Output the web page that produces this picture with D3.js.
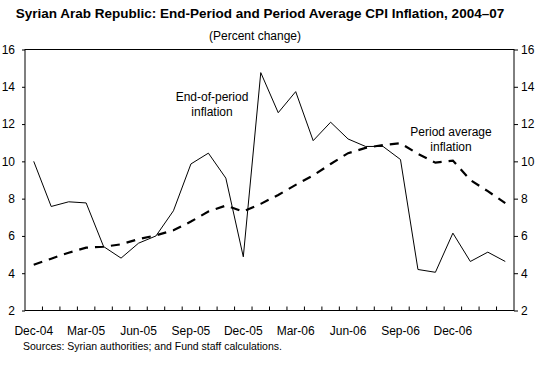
<!DOCTYPE html>
<html>
<head>
<meta charset="utf-8">
<script src="https://cdn.jsdelivr.net/npm/d3@7"></script>
<style>
  body { margin: 0; background: #fff; }
  svg { display: block; font-family: "Liberation Sans", Arial, sans-serif; }
</style>
</head>
<body>
<script>
const months = ["Dec-04","Jan-05","Feb-05","Mar-05","Apr-05","May-05","Jun-05","Jul-05","Aug-05","Sep-05","Oct-05","Nov-05",
  "Dec-05","Jan-06","Feb-06","Mar-06","Apr-06","May-06","Jun-06","Jul-06","Aug-06","Sep-06","Oct-06","Nov-06",
  "Dec-06","Jan-07","Feb-07","Mar-07"];
const endPeriod = [10.0,7.58,7.83,7.77,5.43,4.81,5.61,6.0,7.35,9.86,10.44,9.1,
  4.88,14.76,12.61,13.74,11.11,12.1,11.2,10.8,10.8,10.1,4.2,4.05,
  6.15,4.63,5.13,4.63];
const periodAvg = [4.45,4.78,5.1,5.37,5.42,5.55,5.83,6.03,6.3,6.77,7.31,7.63,
  7.31,7.72,8.2,8.74,9.24,9.86,10.44,10.72,10.88,10.97,10.4,9.93,
  10.04,9.0,8.4,7.76];
const xTickLabels = ["Dec-04","Mar-05","Jun-05","Sep-05","Dec-05","Mar-06","Jun-06","Sep-06","Dec-06"];
const yTicks = [2,4,6,8,10,12,14,16];

const W = 540, H = 369;
const L = 25, R = 514, T = 49.5, B = 310.5;

const svg = d3.select("body").append("svg").attr("width", W).attr("height", H);

const x = d3.scaleBand().domain(months).range([L, R]).padding(0);
const y = d3.scaleLinear().domain([2, 16]).range([B, T]);
const cx = d => x(d) + x.bandwidth() / 2;

// Title
svg.append("text").attr("x", 260).attr("y", 18).attr("text-anchor", "middle")
  .attr("font-size", 13.5).attr("font-weight", "bold")
  .text("Syrian Arab Republic: End-Period and Period Average CPI Inflation, 2004\u201307");
svg.append("text").attr("x", 255).attr("y", 40).attr("text-anchor", "middle")
  .attr("font-size", 12).text("(Percent change)");

// Frame
svg.append("rect").attr("x", L).attr("y", T).attr("width", R - L).attr("height", B - T)
  .attr("fill", "none").attr("stroke", "#000").attr("stroke-width", 1);

// Left axis
const yl = svg.append("g").attr("transform", `translate(${L},0)`)
  .call(d3.axisLeft(y).tickValues(yTicks).tickSize(3).tickPadding(7).tickFormat(d3.format("d")));
// Right axis
const yr = svg.append("g").attr("transform", `translate(${R},0)`)
  .call(d3.axisRight(y).tickValues(yTicks).tickSize(4).tickPadding(3).tickFormat(d3.format("d")));
[yl, yr].forEach(g => {
  g.select(".domain").remove();
  g.selectAll("text").attr("font-size", 12).attr("fill", "#000")
    .attr("font-family", "'Liberation Sans', Arial, sans-serif");
  g.selectAll("line").attr("stroke", "#000");
});

// Bottom axis: ticks at band boundaries, inward
const boundaries = months.slice(1).map(m => x(m));
svg.append("g").selectAll("line").data(boundaries).join("line")
  .attr("x1", d => d).attr("x2", d => d).attr("y1", B).attr("y2", B - 4)
  .attr("stroke", "#000").attr("stroke-width", 1);
svg.append("g").selectAll("text").data(xTickLabels).join("text")
  .attr("x", d => cx(d)).attr("y", 335).attr("text-anchor", "middle")
  .attr("font-size", 12).text(d => d);

// Lines
const line = arr => d3.line().x((d, i) => cx(months[i])).y(d => y(d))(arr);
svg.append("path").attr("d", line(endPeriod)).attr("fill", "none")
  .attr("stroke", "#000").attr("stroke-width", 1);
svg.append("path").attr("d", line(periodAvg)).attr("fill", "none")
  .attr("stroke", "#000").attr("stroke-width", 2.2).attr("stroke-dasharray", "9,7");

// Annotations
const ann = svg.append("g").attr("font-size", 12).attr("text-anchor", "middle");
ann.append("text").attr("x", 212).attr("y", 101).text("End-of-period");
ann.append("text").attr("x", 212).attr("y", 116).text("inflation");
ann.append("text").attr("x", 451).attr("y", 136).text("Period average");
ann.append("text").attr("x", 451).attr("y", 151).text("inflation");

// Source
svg.append("text").attr("x", 23).attr("y", 350).attr("font-size", 10.5)
  .text("Sources: Syrian authorities; and Fund staff calculations.");
</script>
</body>
</html>
